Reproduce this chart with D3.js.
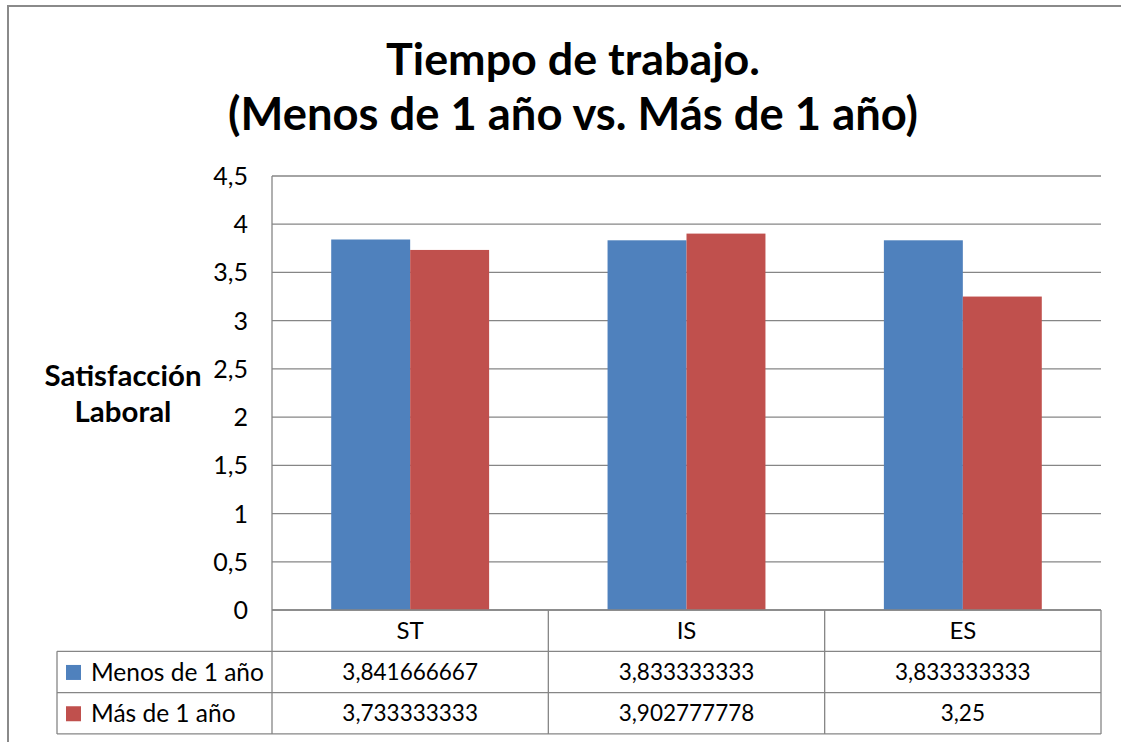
<!DOCTYPE html>
<html><head><meta charset="utf-8">
<script src="https://cdn.jsdelivr.net/npm/d3@7"></script>
<style>body{margin:0;background:#fff}svg{display:block}text{font-family:Lato,"Open Sans",sans-serif;fill:#000}</style>
</head><body>
<svg id="c" width="1121" height="742"></svg>
<script>
const categories = ["ST", "IS", "ES"];
const seriesNames = ["Menos de 1 año", "Más de 1 año"];
const menos = [3.841666667, 3.833333333, 3.833333333];
const mas = [3.733333333, 3.902777778, 3.25];
const yTicks = [0, 0.5, 1, 1.5, 2, 2.5, 3, 3.5, 4, 4.5];
const titleLines = ["Tiempo de trabajo.", "(Menos de 1 año vs. Más de 1 año)"];
const yTitle = ["Satisfacción", "Laboral"];
const colors = ["#4F81BD", "#C0504D"];

const loc = d3.formatLocale({decimal: ",", thousands: ".", grouping: [3], currency: ["", "€"]});
const fTick = loc.format(".1~f");
const fVal = loc.format(".10~g");

const svg = d3.select("#c");
const grid = "#868686";
const L = 272, R = 1101, T = 176, B = 610;
const rowH = 41.3;
const tableLeft = 57;

function fitSize(text, weight, target) {
  const t = svg.append("text").attr("font-size", 40).attr("font-weight", weight).text(text);
  const w = t.node().getComputedTextLength();
  t.remove();
  return 40 * target / w;
}

// outer border
svg.append("path").attr("d", `M8,745 L8,6 L1125,6`).attr("fill", "none").attr("stroke", "#8a8a8a").attr("stroke-width", 2);

// title
const titleY = [75, 130], titleW = [374, 690];
titleLines.forEach((t, i) => {
  svg.append("text").attr("x", 573).attr("y", titleY[i]).attr("text-anchor", "middle")
    .attr("font-weight", "bold").attr("font-size", fitSize(t, "bold", titleW[i])).text(t);
});

const y = d3.scaleLinear().domain([0, 4.5]).range([B, T]);
const x0 = d3.scaleBand().domain(categories).range([L, R]).paddingInner(0).paddingOuter(0);
const x1 = d3.scaleBand().domain(seriesNames).range([0, x0.bandwidth()]).paddingInner(0).paddingOuter(0.75);

// gridlines
svg.append("g").selectAll("line").data(yTicks).join("line")
  .attr("x1", L).attr("x2", R).attr("y1", d => y(d)).attr("y2", d => y(d))
  .attr("stroke", grid).attr("stroke-width", 1.3);
svg.append("line").attr("x1", L).attr("x2", L).attr("y1", T).attr("y2", B).attr("stroke", grid).attr("stroke-width", 1.3);

// y labels
svg.append("g").selectAll("text").data(yTicks).join("text")
  .attr("x", 248).attr("y", d => y(d)).attr("dy", "0.36em").attr("text-anchor", "end")
  .attr("font-size", 25).text(d => fTick(d));

// y title
const ytSize = fitSize(yTitle[0], "bold", 157);
yTitle.forEach((t, i) => {
  svg.append("text").attr("x", 123).attr("y", 386 + i * 36).attr("text-anchor", "middle")
    .attr("font-weight", "bold").attr("font-size", ytSize).text(t);
});

// bars
const series = [menos, mas];
series.forEach((vals, si) => {
  svg.append("g").selectAll("rect").data(vals).join("rect")
    .attr("x", (d, i) => x0(categories[i]) + x1(seriesNames[si]))
    .attr("width", x1.bandwidth())
    .attr("y", d => y(d)).attr("height", d => y(0) - y(d))
    .attr("fill", colors[si]);
});
svg.append("line").attr("x1", L).attr("x2", R).attr("y1", B).attr("y2", B).attr("stroke", grid).attr("stroke-width", 1.3);

// data table
const tg = svg.append("g");
const rowTops = [B, B + rowH, B + 2 * rowH, B + 3 * rowH];
[1, 2, 3].forEach(k => {
  tg.append("line").attr("x1", tableLeft).attr("x2", R).attr("y1", rowTops[k]).attr("y2", rowTops[k]).attr("stroke", grid).attr("stroke-width", 1.3);
});
categories.forEach(c => {
  tg.append("line").attr("x1", x0(c)).attr("x2", x0(c)).attr("y1", B).attr("y2", rowTops[3]).attr("stroke", grid).attr("stroke-width", 1.3);
});
tg.append("line").attr("x1", R).attr("x2", R).attr("y1", B).attr("y2", rowTops[3]).attr("stroke", grid).attr("stroke-width", 1.3);
tg.append("line").attr("x1", tableLeft).attr("x2", tableLeft).attr("y1", rowTops[1]).attr("y2", rowTops[3]).attr("stroke", grid).attr("stroke-width", 1.3);

tg.selectAll("text.cat").data(categories).join("text").attr("class", "cat")
  .attr("x", d => x0(d) + x0.bandwidth() / 2).attr("y", B + rowH / 2).attr("dy", "0.36em")
  .attr("text-anchor", "middle").attr("font-size", 24).text(d => d);

const legSize = fitSize(seriesNames[0], "normal", 173);
series.forEach((vals, si) => {
  const cy = rowTops[si + 1] + rowH / 2;
  tg.append("rect").attr("x", 66).attr("y", cy - 7).attr("width", 15).attr("height", 15).attr("fill", colors[si]);
  tg.append("text").attr("x", 91).attr("y", cy).attr("dy", "0.36em").attr("font-size", legSize).text(seriesNames[si]);
  tg.append("g").selectAll("text").data(vals).join("text")
    .attr("x", (d, i) => x0(categories[i]) + x0.bandwidth() / 2).attr("y", cy).attr("dy", "0.36em")
    .attr("text-anchor", "middle").attr("font-size", 22.5).text(d => fVal(d));
});
</script>
</body></html>
